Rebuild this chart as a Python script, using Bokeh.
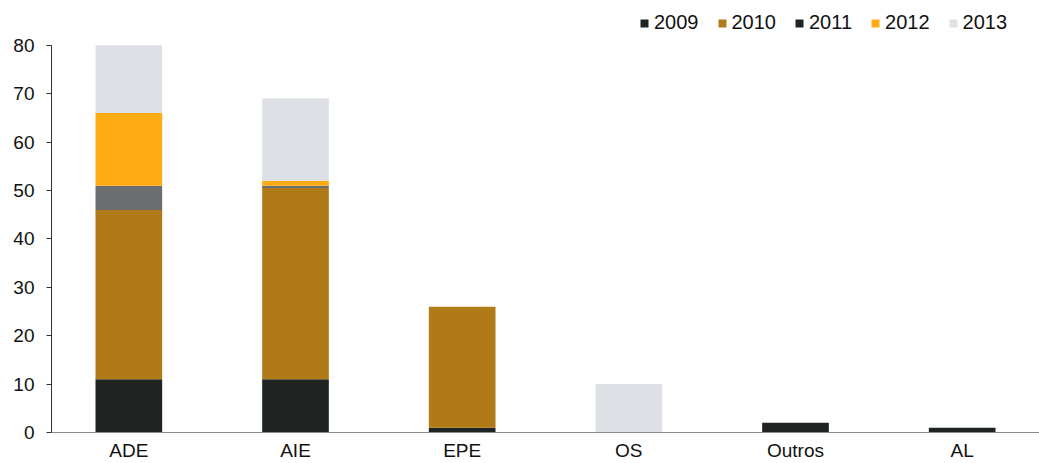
from bokeh.plotting import figure
from bokeh.models import ColumnDataSource, FactorRange, Range1d, Legend, LegendItem, FixedTicker
from bokeh.embed import file_html
from bokeh.resources import INLINE

categories = ["ADE", "AIE", "EPE", "OS", "Outros", "AL"]
years = ["2009", "2010", "2011", "2012", "2013"]
v2009 = [11, 11, 1, 0, 2, 1]
v2010 = [35, 39.5, 25, 0, 0, 0]
v2011 = [5, 0.5, 0, 0, 0, 0]
v2012 = [15, 1, 0, 0, 0, 0]
v2013 = [14, 17, 0, 10, 0, 0]
y_ticks = [0, 10, 20, 30, 40, 50, 60, 70, 80]

bar_colors = ["#1f2322", "#b07a17", "#6b6e70", "#ffab14", "#dde0e4"]

source = ColumnDataSource(dict(cat=categories, **{"2009": v2009, "2010": v2010,
                                                  "2011": v2011, "2012": v2012,
                                                  "2013": v2013}))

FONT = "Liberation Sans"
TEXT = "#111111"

# headroom above 80 leaves space for the key inside the frame
p = figure(width=1039, height=463, output_backend="svg", toolbar_location=None,
           x_range=FactorRange(*categories, range_padding=-0.012),
           y_range=Range1d(0, 87.2),
           min_border_left=51, min_border_right=0, min_border_top=10,
           min_border_bottom=30)

stack = p.vbar_stack(years, x="cat", width=0.4, source=source, color=bar_colors,
                     line_color=None)

# the 2011 key shares the dark swatch of 2009
swatch_for = [stack[0], stack[1], stack[0], stack[3], stack[4]]
items = [LegendItem(label=yr, renderers=[r]) for yr, r in zip(years, swatch_for)]

legend = Legend(items=items, orientation="horizontal", location=(588, 398),
                border_line_color=None, background_fill_alpha=0,
                label_text_font=FONT, label_text_font_size="20px",
                label_text_color=TEXT, label_height=20,
                glyph_width=10, glyph_height=10, label_standoff=5,
                spacing=18, padding=0, margin=0)
p.add_layout(legend, "center")

p.outline_line_color = None
p.xgrid.grid_line_color = None
p.ygrid.grid_line_color = None

p.yaxis.bounds = (0, 80)
p.yaxis.ticker = FixedTicker(ticks=y_ticks)
p.yaxis.axis_line_color = "#333333"
p.yaxis.major_tick_line_color = "#333333"
p.yaxis.major_tick_in = 0
p.yaxis.major_tick_out = 5
p.yaxis.minor_tick_line_color = None
p.yaxis.major_label_standoff = 12
p.yaxis.major_label_text_font = FONT
p.yaxis.major_label_text_font_size = "19px"
p.yaxis.major_label_text_color = TEXT

p.xaxis.axis_line_color = "#8a8a8a"
p.xaxis.major_tick_line_color = None
p.xaxis.major_label_standoff = 1
p.xaxis.major_label_text_font = FONT
p.xaxis.major_label_text_font_size = "19px"
p.xaxis.major_label_text_color = TEXT

open("out.html", "w").write(file_html(p, INLINE))
